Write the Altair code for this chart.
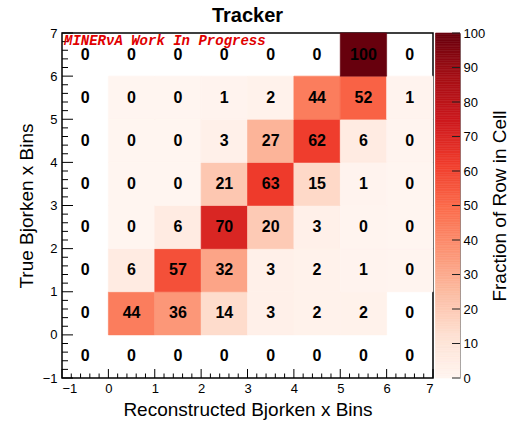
import altair as alt
import numpy as np
import pandas as pd

# Lower edges of the reconstructed (x) and true (y) Bjorken-x bins
X_LOW = [-1, 0, 1, 2, 3, 4, 5, 6]
Y_LOW = [-1, 0, 1, 2, 3, 4, 5, 6]

# Row-normalised migration, percent of each true bin; None marks an empty bin
ROWS = {
    -1: [None, None, None, None, None, None, None, None],
    0: [None, 44, 36, 14, 3, 2, 2, None],
    1: [None, 6, 57, 32, 3, 2, 1, 0.3],
    2: [None, 0.2, 6, 70, 20, 3, 0.4, 0.1],
    3: [None, 0.1, 0.2, 21, 63, 15, 1, 0.2],
    4: [None, 0.1, 0.2, 3, 27, 62, 6, 0.3],
    5: [None, 0.1, 0.2, 1, 2, 44, 52, 1],
    6: [None, None, None, None, None, None, 100, None],
}

AXIS_TICKS = [-1, 0, 1, 2, 3, 4, 5, 6, 7]
BAR_TICKS = [0, 10, 20, 30, 40, 50, 60, 70, 80, 90, 100]
STAMP = "MINER\u03bdA Work In Progress"

# white-to-dark-red palette stops, evenly spread over 0..100
PALETTE = ["#fff5f0", "#fee0d2", "#fcbba1", "#fc9272", "#fb6a4a",
           "#ef3b2c", "#cb181d", "#a50f15", "#67000d"]
PALETTE_STOPS = [0, 12.5, 25, 37.5, 50, 62.5, 75, 87.5, 100]

FONT = "Liberation Sans"
W, H = 371, 345

records = []
for y0 in Y_LOW:
    for x0, v in zip(X_LOW, ROWS[y0]):
        records.append({
            "x0": x0, "x1": x0 + 1, "xc": x0 + 0.5,
            "y0": y0, "y1": y0 + 1, "yc": y0 + 0.5,
            "frac": v,
            "label": "0" if v is None else f"{v:.0f}",
        })
cells = pd.DataFrame(records)
filled = cells[cells["frac"].notna()].copy()

x_scale = alt.Scale(domain=[-1, 7], nice=False, zero=False)
y_scale = alt.Scale(domain=[-1, 7], nice=False, zero=False)
color_scale = alt.Scale(domain=PALETTE_STOPS, range=PALETTE, interpolate="rgb")

x_axis = alt.Axis(values=AXIS_TICKS, format="d", ticks=False, tickSize=0, domain=False,
                  grid=False, labelFontSize=13, labelPadding=4, labelColor="black",
                  title="Reconstructed Bjorken x Bins", titleFontSize=19,
                  titleFontWeight="normal", titleColor="black", titlePadding=5)
y_axis = alt.Axis(values=AXIS_TICKS, format="d", ticks=False, tickSize=0, domain=False,
                  grid=False, labelFontSize=13, labelPadding=5, labelColor="black",
                  title="True Bjorken x Bins", titleFontSize=19,
                  titleFontWeight="normal", titleColor="black", titlePadding=6)

heat = alt.Chart(filled).mark_rect(strokeWidth=0.6).encode(
    x=alt.X("x0:Q", scale=x_scale, axis=x_axis),
    x2="x1:Q",
    y=alt.Y("y0:Q", scale=y_scale, axis=y_axis),
    y2="y1:Q",
    color=alt.Color("frac:Q", scale=color_scale, legend=None),
    stroke=alt.Stroke("frac:Q", scale=color_scale, legend=None),
)

numbers = alt.Chart(cells).mark_text(
    font=FONT, fontSize=16, fontWeight="bold", color="black",
    align="center", baseline="middle",
).encode(
    x=alt.X("xc:Q", scale=x_scale, axis=x_axis),
    y=alt.Y("yc:Q", scale=y_scale, axis=y_axis),
    text="label:N",
)

# inward-pointing tick marks in the ROOT style
major = pd.DataFrame({"p": AXIS_TICKS})
minor_pos = [round(p, 1) for p in np.arange(-1, 7.001, 0.2) if abs(p - round(p)) > 1e-6]
minor = pd.DataFrame({"p": minor_pos})

x_major = alt.Chart(major).mark_rule(color="black", strokeWidth=1).encode(
    x=alt.X("p:Q", scale=x_scale, axis=x_axis), y=alt.value(H), y2=alt.value(H - 9))
x_minor = alt.Chart(minor).mark_rule(color="black", strokeWidth=1).encode(
    x=alt.X("p:Q", scale=x_scale, axis=x_axis), y=alt.value(H), y2=alt.value(H - 4.5))
y_major = alt.Chart(major).mark_rule(color="black", strokeWidth=1).encode(
    y=alt.Y("p:Q", scale=y_scale, axis=y_axis), x=alt.value(0), x2=alt.value(11))
y_minor = alt.Chart(minor).mark_rule(color="black", strokeWidth=1).encode(
    y=alt.Y("p:Q", scale=y_scale, axis=y_axis), x=alt.value(0), x2=alt.value(6))

stamp = alt.Chart(pd.DataFrame({"t": [STAMP]})).mark_text(
    font="Liberation Mono", fontSize=14, fontStyle="italic", fontWeight="bold",
    color="#e00000", align="left", baseline="alphabetic",
).encode(text="t:N", x=alt.value(2), y=alt.value(12))

main = alt.layer(heat, numbers, x_major, x_minor, y_major, y_minor, stamp)

# colour bar drawn beside the frame
bar_scale = alt.Scale(domain=[0, 100], nice=False, zero=False)
bar_axis = alt.Axis(orient="right", offset=27, values=BAR_TICKS, ticks=False, tickSize=0,
                    domain=True, domainColor="#888888", domainWidth=1, grid=False,
                    labelFontSize=13, labelPadding=3, labelColor="black",
                    title="Fraction of Row in Cell", titleFontSize=19,
                    titleFontWeight="normal", titleColor="black", titleAngle=270,
                    titlePadding=25)
steps = np.arange(0, 100, 0.5)
bar_df = pd.DataFrame({"v": steps, "v2": steps + 0.5, "mid": steps + 0.25})
bar = alt.Chart(bar_df).mark_rect(strokeWidth=0.6).encode(
    y=alt.Y("v:Q", scale=bar_scale, axis=bar_axis),
    y2="v2:Q",
    x=alt.value(W + 2.5), x2=alt.value(W + 27),
    color=alt.Color("mid:Q", scale=color_scale, legend=None),
    stroke=alt.Stroke("mid:Q", scale=color_scale, legend=None),
)
bar_ticks = alt.Chart(pd.DataFrame({"t": BAR_TICKS})).mark_rule(
    color="#222222", strokeWidth=1).encode(
    y=alt.Y("t:Q", scale=bar_scale, axis=bar_axis),
    x=alt.value(W + 19), x2=alt.value(W + 27),
)
colorbar = alt.layer(bar, bar_ticks)

chart = alt.layer(main, colorbar).resolve_scale(y="independent").properties(
    width=W, height=H,
    autosize=alt.AutoSizeParams(type="none"),
    padding={"left": 62, "top": 33, "right": 77, "bottom": 46},
    title=alt.TitleParams("Tracker", font=FONT, fontSize=20, fontWeight="bold",
                          anchor="middle", color="black", offset=1),
    background="white",
).configure(font=FONT).configure_view(stroke="black", strokeWidth=1.5)

chart.save("out.html", embed_options={"renderer": "svg", "actions": False})
